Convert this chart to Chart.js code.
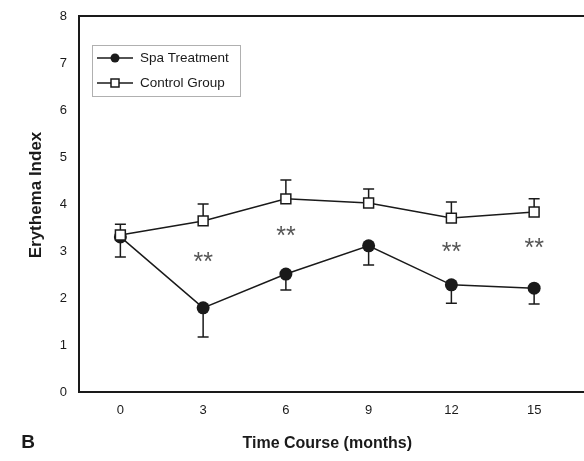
<!DOCTYPE html>
<html lang="en">
<head>
    <meta charset="UTF-8">
    <title>Erythema Index</title>
    <script src="https://cdn.jsdelivr.net/npm/chart.js"></script>
    <style>
        html, body { margin: 0; padding: 0; background: #fff; overflow: hidden; }
        #wrap { position: relative; width: 584px; height: 461px; }
    </style>
</head>
<body>
    <div id="wrap">
        <canvas id="erythemaChart"></canvas>
    </div>

    <script>
        // values
        const months = ["0", "3", "6", "9", "12", "15"];
        const spaMean = [3.30, 1.79, 2.51, 3.11, 2.28, 2.21];
        const spaSD = [0.43, 0.62, 0.34, 0.41, 0.39, 0.34];
        const controlMean = [3.34, 3.64, 4.11, 4.02, 3.70, 3.83];
        const controlSD = [0.23, 0.36, 0.40, 0.30, 0.34, 0.28];
        // where the "**" marks sit (null = no mark)
        const starLevel = [null, 2.77, 3.34, null, 2.99, 3.08];

        const FONT = "'Liberation Sans', Arial, sans-serif";
        const INK = "#1a1a1a";

        // error bars: spa goes down, control goes up
        const errorBars = {
            id: "errorBars",
            beforeDatasetsDraw(chart) {
                const { ctx, scales: { x, y } } = chart;
                const sets = [
                    { mean: spaMean, sd: spaSD, dir: -1 },
                    { mean: controlMean, sd: controlSD, dir: 1 }
                ];
                ctx.save();
                ctx.strokeStyle = INK;
                ctx.lineWidth = 1.5;
                sets.forEach(s => {
                    s.mean.forEach((m, i) => {
                        const px = x.getPixelForValue(i);
                        const y0 = y.getPixelForValue(m);
                        const y1 = y.getPixelForValue(m + s.dir * s.sd[i]);
                        ctx.beginPath();
                        ctx.moveTo(px, y0);
                        ctx.lineTo(px, y1);
                        ctx.moveTo(px - 5.5, y1);
                        ctx.lineTo(px + 5.5, y1);
                        ctx.stroke();
                    });
                });
                ctx.restore();
            }
        };

        // frame (right side is cut off in the original), asterisks, inset legend, extra labels
        const decorations = {
            id: "decorations",
            afterDraw(chart) {
                const { ctx, chartArea: a, scales: { x, y } } = chart;
                ctx.save();

                ctx.strokeStyle = INK;
                ctx.lineWidth = 2;
                ctx.beginPath();
                ctx.moveTo(chart.width + 2, a.top);
                ctx.lineTo(a.left, a.top);
                ctx.lineTo(a.left, a.bottom);
                ctx.lineTo(chart.width + 2, a.bottom);
                ctx.stroke();

                // significance marks
                ctx.fillStyle = "#555";
                ctx.font = "25px " + FONT;
                ctx.textAlign = "center";
                ctx.textBaseline = "alphabetic";
                starLevel.forEach((v, i) => {
                    if (v === null) return;
                    ctx.fillText("**", x.getPixelForValue(i), y.getPixelForValue(v) + 8.5);
                });

                // legend box
                const lx = 92, ly = 45, lw = 148, lh = 51;
                ctx.fillStyle = "#fff";
                ctx.fillRect(lx, ly, lw, lh);
                ctx.strokeStyle = "#b0b0b0";
                ctx.lineWidth = 1;
                ctx.strokeRect(lx + 0.5, ly + 0.5, lw, lh);

                const entries = [
                    { label: chart.data.datasets[1].label, yy: 58, filled: true },
                    { label: chart.data.datasets[0].label, yy: 83, filled: false }
                ];
                entries.forEach(e => {
                    ctx.strokeStyle = INK;
                    ctx.lineWidth = 1.5;
                    ctx.beginPath();
                    ctx.moveTo(97, e.yy);
                    ctx.lineTo(133, e.yy);
                    ctx.stroke();
                    if (e.filled) {
                        ctx.fillStyle = INK;
                        ctx.beginPath();
                        ctx.arc(115, e.yy, 4.5, 0, Math.PI * 2);
                        ctx.fill();
                    } else {
                        ctx.fillStyle = "#fff";
                        ctx.fillRect(111, e.yy - 4, 8, 8);
                        ctx.strokeRect(111, e.yy - 4, 8, 8);
                    }
                    ctx.fillStyle = INK;
                    ctx.font = "13.5px " + FONT;
                    ctx.textAlign = "left";
                    ctx.textBaseline = "middle";
                    ctx.fillText(e.label, 140, e.yy);
                });

                // y title
                ctx.save();
                ctx.translate(36, 195);
                ctx.rotate(-Math.PI / 2);
                ctx.font = "bold 17px " + FONT;
                ctx.textAlign = "center";
                ctx.textBaseline = "middle";
                ctx.fillStyle = INK;
                ctx.fillText("Erythema Index", 0, 0);
                ctx.restore();

                // panel letter
                ctx.font = "bold 19px " + FONT;
                ctx.fillStyle = INK;
                ctx.textAlign = "center";
                ctx.textBaseline = "middle";
                ctx.fillText("B", 28, 443);

                ctx.restore();
            }
        };

        new Chart(document.getElementById("erythemaChart"), {
            type: "line",
            data: {
                labels: months,
                datasets: [
                    {
                        label: "Control Group",
                        data: controlMean,
                        order: 0,
                        borderColor: INK,
                        borderWidth: 1.5,
                        tension: 0,
                        pointStyle: "rect",
                        pointRadius: 7,
                        pointBorderWidth: 1.5,
                        pointBackgroundColor: "#fff",
                        pointBorderColor: INK
                    },
                    {
                        label: "Spa Treatment",
                        data: spaMean,
                        order: 1,
                        borderColor: INK,
                        borderWidth: 1.5,
                        tension: 0,
                        pointStyle: "circle",
                        pointRadius: 6.5,
                        pointBorderWidth: 0,
                        pointBackgroundColor: INK,
                        pointBorderColor: INK
                    }
                ]
            },
            options: {
                responsive: true,
                maintainAspectRatio: false,
                animation: false,
                devicePixelRatio: 1,
                layout: { padding: { top: 16, right: 0, left: 0, bottom: 0 } },
                plugins: {
                    legend: { display: false },
                    tooltip: { enabled: false }
                },
                scales: {
                    x: {
                        offset: true,
                        grid: { display: false, drawTicks: false },
                        border: { display: false },
                        ticks: {
                            padding: 11,
                            color: INK,
                            font: { family: FONT, size: 13 },
                            maxRotation: 0
                        },
                        title: {
                            display: true,
                            text: "Time Course (months)",
                            color: INK,
                            font: { family: FONT, size: 16, weight: "bold" },
                            padding: { top: 0, bottom: 8 }
                        },
                        afterFit(scale) {
                            scale.height = 69;
                            scale.paddingLeft = 0;
                            scale.paddingRight = 0;
                        }
                    },
                    y: {
                        min: 0,
                        max: 8,
                        grid: { display: false, drawTicks: false },
                        border: { display: false },
                        ticks: {
                            stepSize: 1,
                            padding: 12,
                            color: INK,
                            font: { family: FONT, size: 13 }
                        },
                        afterFit(scale) {
                            scale.width = 79;
                            scale.paddingTop = 0;
                            scale.paddingBottom = 0;
                        }
                    }
                }
            },
            plugins: [errorBars, decorations]
        });
    </script>
</body>
</html>
